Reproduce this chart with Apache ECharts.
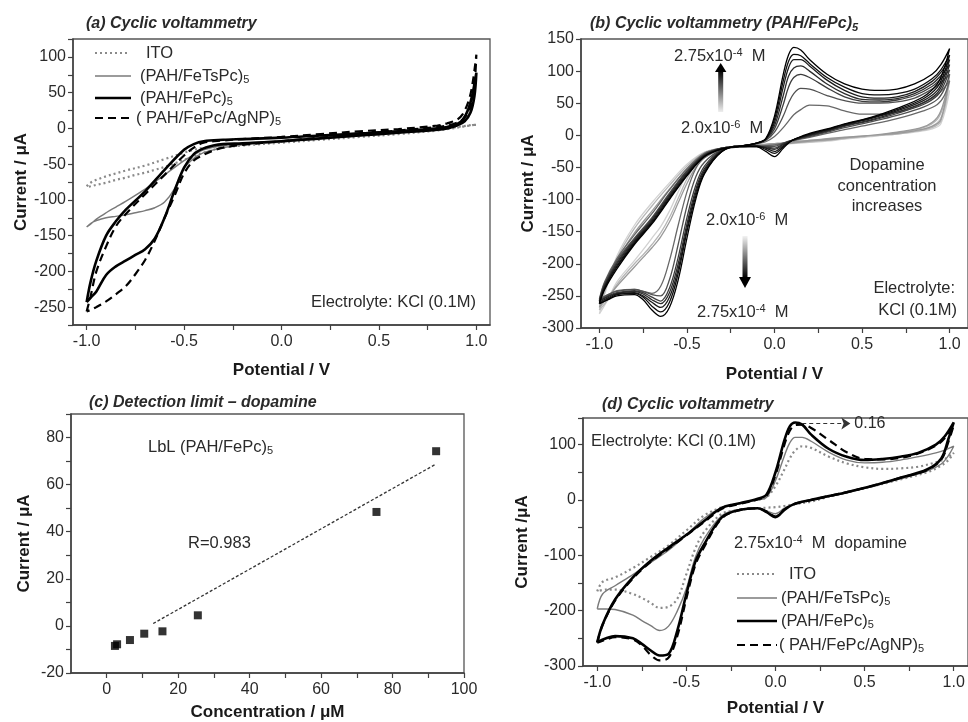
<!DOCTYPE html>
<html><head><meta charset="utf-8">
<script src="https://cdn.jsdelivr.net/npm/echarts@6/dist/echarts.min.js"></script>
<style>html,body{margin:0;padding:0;background:#fff}#c{width:968px;height:722px}</style>
</head><body><div id="c"></div>
<script>
// ---------------- Panel (a): potential grids (V) and currents (µA) ----------------
const aFwdV = [-1.0,-0.98,-0.95,-0.9,-0.85,-0.8,-0.7,-0.6,-0.5,-0.45,-0.4,-0.3,-0.2,0.0,0.2,0.4,0.6,0.8,0.85,0.9,0.93,0.96,0.98,1.0];
const aRevV = [0.99,0.97,0.94,0.9,0.85,0.8,0.6,0.4,0.2,0.0,-0.2,-0.3,-0.35,-0.4,-0.45,-0.5,-0.55,-0.6,-0.65,-0.7,-0.75,-0.8,-0.85,-0.9,-0.95,-0.98,-1.0];
const aITOFwd = [-81,-76,-72,-67,-63,-59,-52,-43,-34,-30,-27,-24,-22,-18,-14,-10,-6,-2,0,2,3,4,5,5];
const aITORev = [5,4,3,1,-1,-3,-8,-12,-16,-20,-24,-27,-30,-34,-39,-44,-49,-54,-58,-62,-65,-69,-72,-76,-79,-81,-82];
const aTsFwd = [-138,-134,-127,-118,-110,-102,-85,-65,-45,-37,-30,-24,-21,-17,-13,-9,-5,-1,1,6,12,25,45,75];
const aTsRev = [50,25,12,5,1,-1,-6,-10,-14,-19,-23,-27,-30,-34,-42,-56,-85,-103,-111,-115,-118,-121,-123,-125,-129,-133,-138];
const aFeFwd = [-243,-215,-185,-150,-130,-114,-88,-58,-30,-22,-18,-16,-15,-13,-10,-7,-4,0,2,6,12,28,48,78];
const aFeRev = [45,22,10,4,0,-2,-6,-10,-14,-18,-21,-22,-24,-28,-36,-55,-88,-125,-154,-169,-177,-185,-193,-205,-228,-237,-243];
const aAgFwd = [-256,-235,-200,-165,-137,-120,-92,-65,-38,-27,-20,-17,-15,-12,-8,-4,-1,4,7,12,20,38,62,103];
const aAgRev = [60,30,15,8,4,2,-3,-8,-13,-18,-23,-27,-31,-37,-45,-63,-95,-125,-157,-184,-204,-221,-232,-242,-250,-254,-256];

// ---------------- Panel (b) ----------------
const bFwdV = [-1.0,-0.97,-0.9,-0.8,-0.7,-0.6,-0.5,-0.4,-0.3,-0.2,-0.1,-0.05,0.0,0.05,0.08,0.11,0.15,0.2,0.3,0.4,0.5,0.6,0.7,0.8,0.9,0.95,1.0];
const bRevV = [0.97,0.93,0.85,0.7,0.55,0.4,0.3,0.2,0.1,0.05,0.0,-0.05,-0.1,-0.2,-0.3,-0.4,-0.45,-0.5,-0.55,-0.6,-0.65,-0.7,-0.75,-0.8,-0.9,-0.95,-1.0];
const bC0Fwd = [-278,-248,-188,-140,-105,-74,-45,-26,-20,-18,-15,-14,-13,-12,-11,-10,-9,-8,-6,-4,-2,0,2,5,10,18,70];
const bC0Rev = [40,20,10,3,-2,-6,-9,-11,-13,-14,-15,-15,-16,-18,-21,-30,-40,-60,-88,-118,-142,-160,-178,-195,-228,-255,-278];
const bC1Fwd = [-272,-244,-192,-145,-110,-78,-48,-27,-20,-18,-15,-14,-13,-12,-11,-10,-9,-8,-6,-4,-2,0,2,6,12,22,85];
const bC1Rev = [50,25,12,4,-1,-5,-8,-10,-12,-13,-14,-15,-16,-18,-22,-33,-45,-68,-98,-128,-152,-170,-186,-200,-232,-255,-272];
const bC2Fwd = [-268,-240,-195,-152,-118,-84,-52,-28,-20,-18,-15,-14,-13,-12,-11,-10,-9,-8,-5,-3,-1,1,3,7,14,25,95];
const bC2Rev = [55,28,13,5,0,-4,-7,-9,-12,-13,-14,-15,-16,-18,-22,-35,-50,-75,-105,-135,-158,-175,-190,-205,-235,-252,-268];
const bC3Fwd = [-255,-228,-192,-155,-122,-85,-52,-28,-20,-17,-13,-10,-2,12,22,32,40,47,46,38,33,33,36,44,58,68,85];
const bC3Rev = [62,48,38,26,17,9,3,-3,-9,-12,-15,-16,-17,-18,-21,-35,-52,-88,-140,-195,-235,-246,-243,-240,-242,-248,-255];
const bC4Fwd = [-256,-230,-195,-160,-128,-90,-55,-30,-20,-17,-13,-8,5,30,50,65,73,72,62,54,50,50,52,58,72,82,95];
const bC4Rev = [72,56,44,31,21,12,5,-2,-8,-12,-17,-17,-17,-18,-22,-42,-65,-110,-170,-225,-250,-248,-243,-240,-243,-248,-256];
const bC5Fwd = [-258,-232,-198,-162,-130,-92,-56,-30,-20,-17,-12,-7,10,48,75,90,95,90,74,60,53,52,55,62,76,88,102];
const bC5Rev = [80,62,48,34,23,14,6,-1,-8,-13,-20,-18,-17,-17,-22,-48,-78,-128,-190,-238,-258,-252,-245,-242,-245,-250,-258];
const bC6Fwd = [-258,-234,-200,-164,-132,-94,-58,-31,-20,-17,-12,-6,15,62,92,105,108,100,80,65,56,55,57,65,80,93,110];
const bC6Rev = [86,66,51,36,24,15,7,0,-8,-14,-22,-19,-17,-17,-23,-52,-85,-138,-200,-245,-262,-256,-247,-243,-246,-251,-258];
const bC7Fwd = [-260,-236,-203,-166,-134,-96,-60,-32,-21,-17,-12,-6,20,75,105,118,118,108,86,70,60,58,60,68,84,98,118];
const bC7Rev = [92,70,54,38,26,16,8,1,-8,-16,-25,-20,-17,-17,-24,-55,-90,-145,-208,-252,-268,-260,-250,-245,-247,-253,-260];
const bC8Fwd = [-262,-238,-205,-168,-136,-98,-62,-33,-21,-17,-12,-6,25,85,115,126,124,112,90,75,65,63,65,72,88,102,125];
const bC8Rev = [98,75,57,40,27,17,9,2,-8,-18,-28,-22,-17,-17,-25,-58,-95,-150,-215,-260,-275,-266,-252,-246,-248,-255,-262];
const bC9Fwd = [-262,-240,-208,-170,-138,-100,-63,-33,-21,-17,-12,-5,30,95,125,137,133,118,95,80,72,70,72,80,95,110,135];
const bC9Rev = [105,80,60,42,28,18,10,3,-8,-20,-33,-25,-18,-17,-25,-60,-100,-160,-225,-268,-282,-272,-256,-248,-250,-256,-262];

// ---------------- Panel (c) ----------------
const cConc = [2.3, 2.9, 6.5, 10.5, 15.6, 25.5, 75.5, 92.2];
const cCurrent = [-8.5, -7.8, -6.0, -3.3, -2.3, 4.5, 48.4, 74.2];
const cFitConc = [13, 92];
const cFitCurrent = [1.0, 68.6];

// ---------------- Panel (d) ----------------
const dFwdV = [-1.0,-0.97,-0.9,-0.8,-0.7,-0.6,-0.5,-0.4,-0.3,-0.2,-0.1,-0.05,0.0,0.05,0.08,0.11,0.15,0.2,0.3,0.4,0.5,0.6,0.7,0.8,0.9,0.95,1.0];
const dRevV = [0.97,0.93,0.85,0.7,0.55,0.4,0.3,0.2,0.1,0.05,0.0,-0.05,-0.1,-0.2,-0.3,-0.4,-0.45,-0.5,-0.55,-0.6,-0.65,-0.7,-0.75,-0.8,-0.9,-0.95,-1.0];
const dITOFwd = [-165,-148,-140,-123,-103,-82,-55,-28,-13,-6,0,5,25,55,75,89,97,94,78,66,59,56,57,60,68,74,85];
const dITORev = [72,62,50,37,25,14,6,-3,-8,-11,-13,-14,-15,-18,-25,-58,-88,-134,-178,-193,-195,-186,-177,-170,-162,-162,-165];
const dTsFwd = [-197,-170,-155,-135,-113,-91,-63,-33,-14,-6,0,5,35,80,103,113,113,106,86,72,67,68,72,78,85,90,97];
const dTsRev = [80,65,52,38,25,13,6,0,-8,-15,-25,-20,-15,-17,-28,-70,-104,-160,-200,-228,-236,-227,-218,-208,-198,-197,-197];
const dFeFwd = [-257,-225,-180,-140,-110,-86,-63,-38,-14,-6,2,10,50,108,133,140,136,118,92,78,72,74,78,85,100,115,140];
const dFeRev = [110,75,55,40,26,14,7,0,-8,-18,-31,-22,-15,-18,-31,-80,-112,-170,-235,-278,-281,-272,-260,-250,-246,-250,-257];
const dAgFwd = [-258,-226,-182,-142,-112,-88,-64,-40,-16,-7,1,8,45,100,125,135,136,130,108,86,74,73,76,84,98,112,135];
const dAgRev = [105,73,54,40,26,14,7,0,-8,-17,-30,-21,-15,-18,-33,-85,-118,-178,-245,-285,-290,-280,-263,-252,-248,-252,-258];

// legend labels
const legendLabels = ['ITO', '(PAH/FeTsPc)', '(PAH/FePc)', '( PAH/FePc/AgNP)'];

// ---------------- helpers ----------------
const FONT = "'Liberation Sans', Arial, sans-serif";
function loop(fv, fi, rv, ri) {
  return fv.map((v, i) => [v, fi[i]]).concat(rv.map((v, i) => [v, ri[i]]));
}
function range(a, b, s) { const r = []; for (let v = a; v <= b + 1e-9; v += s) r.push(+v.toFixed(3)); return r; }
const axisCol = '#404040';
const TICKFS = 16;
function xAx(gi, min, max, labels, ticks, fmt) {
  return {
    type: 'value', gridIndex: gi, min, max,
    axisLine: { show: true, onZero: false, lineStyle: { color: axisCol, width: 1.5 } },
    axisTick: { show: true, length: 5, lineStyle: { color: axisCol, width: 1.2 }, customValues: ticks },
    axisLabel: { color: '#2a2a2a', fontSize: TICKFS, fontFamily: FONT, margin: 9, customValues: labels, formatter: fmt },
    splitLine: { show: false }
  };
}
function yAx(gi, min, max, interval, labelStep) {
  return {
    type: 'value', gridIndex: gi, min, max, interval,
    axisLine: { show: true, onZero: false, lineStyle: { color: axisCol, width: 1.5 } },
    axisTick: { show: true, length: 5, lineStyle: { color: axisCol, width: 1.2 } },
    axisLabel: { color: '#2a2a2a', fontSize: TICKFS, fontFamily: FONT, margin: 7,
      formatter: v => (Math.abs(Math.round(v) % labelStep) === 0 ? String(Math.round(v)) : '') },
    splitLine: { show: false }
  };
}
const vfmt = v => (+v).toFixed(1);

const styles = [
  { color: '#8a8a8a', width: 2.2, type: [2, 3] },
  { color: '#7a7a7a', width: 1.4, type: 'solid' },
  { color: '#000000', width: 2.6, type: 'solid' },
  { color: '#000000', width: 2.2, type: [8, 5] }
];
function cv(name, xi, data, st, extra) {
  return Object.assign({
    type: 'line', name, xAxisIndex: xi, yAxisIndex: xi, data, smooth: 0.35,
    symbol: 'none', showSymbol: false, silent: true, animation: false,
    lineStyle: Object.assign({ cap: 'butt' }, st), itemStyle: { color: st.color }
  }, extra || {});
}

const bColors = ['#d2d2d2', '#b6b6b6', '#999999', '#686868', '#505050', '#3c3c3c', '#2b2b2b', '#1c1c1c', '#0e0e0e', '#000000'];
const bF = [bC0Fwd, bC1Fwd, bC2Fwd, bC3Fwd, bC4Fwd, bC5Fwd, bC6Fwd, bC7Fwd, bC8Fwd, bC9Fwd];
const bR = [bC0Rev, bC1Rev, bC2Rev, bC3Rev, bC4Rev, bC5Rev, bC6Rev, bC7Rev, bC8Rev, bC9Rev];

const series = [
  cv('aITO', 0, loop(aFwdV, aITOFwd, aRevV, aITORev), styles[0]),
  cv('aTs', 0, loop(aFwdV, aTsFwd, aRevV, aTsRev), styles[1]),
  cv('aFe', 0, loop(aFwdV, aFeFwd, aRevV, aFeRev), styles[2]),
  cv('aAg', 0, loop(aFwdV, aAgFwd, aRevV, aAgRev), styles[3])
];
bF.forEach((f, i) => series.push(cv('b' + i, 1, loop(bFwdV, f, bRevV, bR[i]),
  { color: bColors[i], width: 1.3, type: 'solid' })));
series.push({
  type: 'line', name: 'cfit', xAxisIndex: 2, yAxisIndex: 2, silent: true, animation: false,
  data: cFitConc.map((x, i) => [x, cFitCurrent[i]]), symbol: 'none',
  lineStyle: { color: '#333', width: 1.3, type: [3, 2] }
});
series.push({
  type: 'scatter', name: 'cpts', xAxisIndex: 2, yAxisIndex: 2, silent: true, animation: false,
  data: cConc.map((x, i) => [x, cCurrent[i]]), symbol: 'rect', symbolSize: 8,
  itemStyle: { color: '#000' }
});
series.push(cv('dITO', 3, loop(dFwdV, dITOFwd, dRevV, dITORev), styles[0]));
series.push(cv('dTs', 3, loop(dFwdV, dTsFwd, dRevV, dTsRev), styles[1]));
series.push(cv('dAg', 3, loop(dFwdV, dAgFwd, dRevV, dAgRev), styles[3]));
series.push(cv('dFe', 3, loop(dFwdV, dFeFwd, dRevV, dFeRev), styles[2], {
  markLine: {
    silent: true, animation: false, symbol: ['none', 'arrow'], symbolSize: 9,
    lineStyle: { color: '#333', width: 1.2, type: [4, 3] },
    label: { show: true, position: 'end', formatter: '0.16', fontSize: 16, color: '#2a2a2a', fontFamily: FONT, distance: 4 },
    data: [[{ coord: [0.15, 138] }, { coord: [0.42, 138] }]]
  }
}));

const rich = {
  n: { fontSize: 16.5, fontFamily: FONT, color: '#2a2a2a', lineHeight: 18 },
  s: { fontSize: 11, fontFamily: FONT, color: '#2a2a2a', lineHeight: 11, verticalAlign: 'bottom' },
  p: { fontSize: 11, fontFamily: FONT, color: '#2a2a2a', lineHeight: 11, verticalAlign: 'top' },
  t: { fontSize: 16, fontFamily: FONT, fontWeight: 'bold', fontStyle: 'italic', color: '#1a1a1a', lineHeight: 18 },
  ts: { fontSize: 11, fontFamily: FONT, fontWeight: 'bold', fontStyle: 'italic', color: '#1a1a1a', lineHeight: 11, verticalAlign: 'bottom' }
};
function txt(x, y, text, align) {
  return { type: 'text', x, y, silent: true,
    style: { text, rich, align: align || 'left', verticalAlign: 'middle', fill: '#2a2a2a', font: '16.5px ' + FONT } };
}
// legend drawn as graphic: line sample + label (styles mirror the series)
function legendItems(x1, x2, ys, xs) {
  const out = [];
  styles.forEach((st, i) => {
    out.push({ type: 'line', silent: true, shape: { x1, y1: ys[i], x2: i === 0 ? x2 - 3 : x2, y2: ys[i] },
      style: { stroke: st.color, lineWidth: st.width, lineDash: Array.isArray(st.type) ? st.type : null } });
    out.push(txt(xs[i], ys[i], '{n|' + legendLabels[i] + '}' + (i === 0 ? '' : '{s|5}')));
  });
  return out;
}

const option = {
  animation: false,
  backgroundColor: '#fff',
  grid: [
    { left: 73, top: 39, width: 417, height: 286, show: true, borderColor: '#555', borderWidth: 1.3 },
    { left: 581, top: 39, width: 393, height: 289, show: true, borderColor: '#555', borderWidth: 1.3 },
    { left: 71, top: 414, width: 393, height: 259, show: true, borderColor: '#555', borderWidth: 1.3 },
    { left: 583, top: 418, width: 388, height: 248, show: true, borderColor: '#555', borderWidth: 1.3 }
  ],
  xAxis: [
    Object.assign(xAx(0, -1.07, 1.07, [-1, -0.5, 0, 0.5, 1], range(-1, 1, 0.25), vfmt),
      { name: 'Potential / V', nameLocation: 'middle', nameGap: 37 }),
    Object.assign(xAx(1, -1.105, 1.105, [-1, -0.5, 0, 0.5, 1], range(-1, 1, 0.25), vfmt),
      { name: 'Potential / V', nameLocation: 'middle', nameGap: 38 }),
    Object.assign(xAx(2, -10, 100, range(0, 100, 20), range(0, 100, 10), v => String(Math.round(v))),
      { name: 'Concentration / μM', nameLocation: 'middle', nameGap: 31 }),
    Object.assign(xAx(3, -1.08, 1.08, [-1, -0.5, 0, 0.5, 1], range(-1, 1, 0.25), vfmt),
      { name: 'Potential / V', nameLocation: 'middle', nameGap: 34 })
  ],
  yAxis: [
    Object.assign(yAx(0, -275, 125, 25, 50), { name: 'Current / μA', nameLocation: 'middle', nameGap: 31 }),
    Object.assign(yAx(1, -300, 150, 50, 50), { name: 'Current / μA', nameLocation: 'middle', nameGap: 44 }),
    Object.assign(yAx(2, -20, 90, 10, 20), { name: 'Current / μA', nameLocation: 'middle', nameGap: 38 }),
    Object.assign(yAx(3, -300, 148, 50, 100), { name: 'Current /μA', nameLocation: 'middle', nameGap: 52 })
  ],
  series,
  graphic: [
    txt(86, 24, '{t|(a) Cyclic voltammetry}'),
    txt(590, 24, '{t|(b) Cyclic voltammetry (PAH/FePc)}{ts|5}'),
    txt(89, 403, '{t|(c) Detection limit – dopamine}'),
    txt(602, 405, '{t|(d) Cyclic voltammetry}'),
    txt(476, 302, 'Electrolyte: KCl (0.1M)', 'right'),
    txt(674, 56, '{n|2.75x10}{p|-4}{n|  M}'),
    txt(681, 128, '{n|2.0x10}{p|-6}{n|  M}'),
    txt(887, 165, 'Dopamine', 'center'),
    txt(887, 186, 'concentration', 'center'),
    txt(887, 206, 'increases', 'center'),
    txt(706, 220, '{n|2.0x10}{p|-6}{n|  M}'),
    txt(697, 312, '{n|2.75x10}{p|-4}{n|  M}'),
    txt(955, 288, 'Electrolyte:', 'right'),
    txt(957, 310, 'KCl (0.1M)', 'right'),
    txt(148, 447, '{n|LbL (PAH/FePc)}{s|5}'),
    txt(188, 543, 'R=0.983'),
    txt(591, 441, 'Electrolyte: KCl (0.1M)'),
    txt(734, 543, '{n|2.75x10}{p|-4}{n|  M  dopamine}'),
    // gradient arrows (panel b)
    { type: 'rect', silent: true, shape: { x: 718.2, y: 70, width: 5, height: 42 },
      style: { fill: { type: 'linear', x: 0, y: 0, x2: 0, y2: 1, colorStops: [{ offset: 0, color: '#000' }, { offset: 1, color: '#eeeeee' }] } } },
    { type: 'polygon', silent: true, shape: { points: [[715, 72], [726.4, 72], [720.7, 63]] }, style: { fill: '#000' } },
    { type: 'rect', silent: true, shape: { x: 742.5, y: 236, width: 5, height: 42 },
      style: { fill: { type: 'linear', x: 0, y: 0, x2: 0, y2: 1, colorStops: [{ offset: 0, color: '#f2f2f2' }, { offset: 1, color: '#000' }] } } },
    { type: 'polygon', silent: true, shape: { points: [[739, 277], [751, 277], [745, 288]] }, style: { fill: '#000' } }
  ].concat(legendItems(95, 131, [53, 76, 98, 118], [146, 140, 140, 136]))
   .concat(legendItems(737, 777, [574, 598, 621, 645], [789, 781, 781, 779]))
};
option.xAxis.concat(option.yAxis).forEach(a => {
  a.nameTextStyle = { fontSize: 17, fontWeight: 'bold', color: '#1a1a1a', fontFamily: FONT };
});
const chart = echarts.init(document.getElementById('c'), null, { renderer: 'canvas' });
chart.setOption(option);
</script></body></html>
